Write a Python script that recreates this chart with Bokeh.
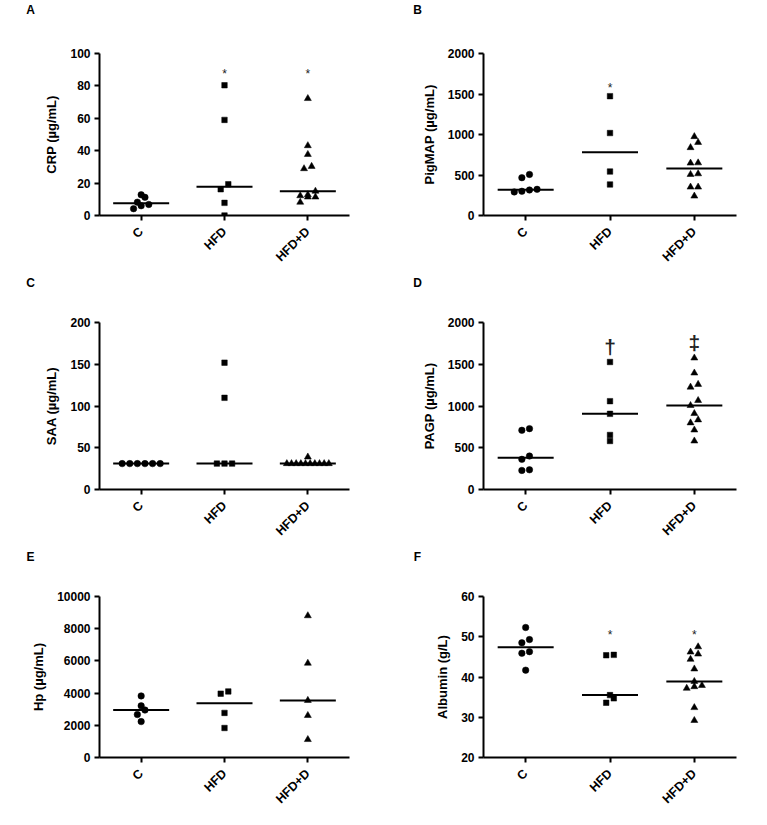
import math
import numpy as np
from bokeh.plotting import figure
from bokeh.layouts import column, row
from bokeh.models import FixedTicker, Range1d
from bokeh.core.properties import value
from bokeh.embed import file_html
from bokeh.resources import INLINE

# ---------------- data ----------------
groups = ["C", "HFD", "HFD+D"]

crp_c = [12.8, 11.2, 8.2, 6.8, 6.0, 4.2]
crp_hfd = [80.4, 59.0, 19.3, 16.2, 7.8, 0.0]
crp_hfdd = [72.2, 43.1, 37.7, 30.3, 28.9, 15.0, 12.8, 12.2, 11.4, 11.4, 8.2]
crp_sig = ["", "*", "*"]
crp_sig_y = [0, 89.3, 89.3]

pigmap_c = [507, 467, 323, 315, 299, 291]
pigmap_hfd = [1473, 1018, 543, 383]
pigmap_hfdd = [974, 902, 838, 650, 647, 515, 507, 351, 351, 240]
pigmap_sig = ["", "*", ""]
pigmap_sig_y = [0, 1617, 0]

saa_c = [31, 31, 31, 31, 31, 31]
saa_hfd = [151.9, 109.8, 31, 31, 31]
saa_hfdd = [38.9, 31, 31, 31, 31, 31, 31, 31, 31, 31, 31]
saa_sig = ["", "", ""]
saa_sig_y = [0, 0, 0]

pagp_c = [729, 709, 401, 361, 236, 228]
pagp_hfd = [1527, 1058, 906, 653, 581]
pagp_hfdd = [1575, 1395, 1259, 1226, 1066, 1006, 910, 834, 798, 713, 581]
pagp_sig = ["", "\u2020", "\u2021"]
pagp_sig_y = [0, 1719, 1771]

hp_c = [3825, 3207, 2948, 2669, 2231]
hp_hfd = [4104, 3964, 2769, 1833]
hp_hfdd = [8805, 5856, 3546, 2610, 1116]
hp_sig = ["", "", ""]
hp_sig_y = [0, 0, 0]

alb_c = [52.3, 49.3, 48.5, 46.3, 45.9, 41.7]
alb_hfd = [45.5, 45.4, 35.5, 34.7, 33.6]
alb_hfdd = [47.5, 46.2, 45.7, 44.4, 42.0, 38.9, 37.9, 37.6, 37.2, 32.4, 29.2]
alb_sig = ["", "*", "*"]
alb_sig_y = [0, 51.2, 51.2]

panels = [
    ("A", "CRP (\u00b5g/mL)", (0, 100), [0, 20, 40, 60, 80, 100], [crp_c, crp_hfd, crp_hfdd], crp_sig, crp_sig_y),
    ("B", "PigMAP (\u00b5g/mL)", (0, 2000), [0, 500, 1000, 1500, 2000], [pigmap_c, pigmap_hfd, pigmap_hfdd], pigmap_sig, pigmap_sig_y),
    ("C", "SAA (\u00b5g/mL)", (0, 200), [0, 50, 100, 150, 200], [saa_c, saa_hfd, saa_hfdd], saa_sig, saa_sig_y),
    ("D", "PAGP (\u00b5g/mL)", (0, 2000), [0, 500, 1000, 1500, 2000], [pagp_c, pagp_hfd, pagp_hfdd], pagp_sig, pagp_sig_y),
    ("E", "Hp (\u00b5g/mL)", (0, 10000), [0, 2000, 4000, 6000, 8000, 10000], [hp_c, hp_hfd, hp_hfdd], hp_sig, hp_sig_y),
    ("F", "Albumin (g/L)", (20, 60), [20, 30, 40, 50, 60], [alb_c, alb_hfd, alb_hfdd], alb_sig, alb_sig_y),
]

# ---------------- layout ----------------
COL_W = [387, 374]
COL_BL = [99, 96]
COL_BR = [38, 25]
STRIP_H = 16
STRIP_Y = [9, 10, 9]        # letter centre, px from strip top
LETTER_X = [30, 30]         # letter centre, px from column left
ROW_H = [256, 259, 251]
ROW_BT = [37, 34, 33]
ROW_BB = [51, 58, 49]

FONT = "Liberation Sans"
MARKERS = ["circle", "square", "triangle"]
MSIZE = [6.5, 5.5, 7]


def swarm(vals, px_per_unit, spacing=7.6, maxw=42.0, h=5.5):
    vals = np.asarray(vals, dtype=float)
    order = np.argsort(vals, kind="stable")
    offs = np.zeros(len(vals))
    bins, cur, start = [], [], None
    for i in order:
        py = vals[i] * px_per_unit
        if cur and py - start > h:
            bins.append(cur)
            cur = []
        if not cur:
            start = py
        cur.append(i)
    if cur:
        bins.append(cur)
    for b in bins:
        n = len(b)
        if n > 1:
            sp = min(spacing, maxw / (n - 1))
            for k, i in enumerate(b):
                offs[i] = (k - (n - 1) / 2) * sp
    return offs


def make_strip(idx, letter):
    col, rw = idx % 2, idx // 2
    W = COL_W[col]
    s = figure(width=W, height=STRIP_H, x_range=Range1d(0, W), y_range=Range1d(STRIP_H, 0),
               x_axis_type=None, y_axis_type=None,
               output_backend="svg", toolbar_location=None,
               min_border_left=0, min_border_right=0, min_border_top=0, min_border_bottom=0)
    s.grid.visible = False
    s.outline_line_color = None
    s.background_fill_color = "white"
    s.border_fill_color = "white"
    s.text(x=[LETTER_X[col]], y=[STRIP_Y[rw]], text=[letter], text_align="center",
           text_baseline="middle", text_font=value(FONT), text_font_style="bold",
           text_font_size="12px", text_color="black")
    return s


def make_panel(idx, letter, ylabel, yr, ticks, series, sig, sig_y):
    col, rw = idx % 2, idx // 2
    W, H = COL_W[col], ROW_H[rw]
    fw = W - COL_BL[col] - COL_BR[col]
    fh = H - ROW_BT[rw] - ROW_BB[rw]
    p = figure(width=W, height=H, x_range=Range1d(0.5, 3.5), y_range=Range1d(*yr),
               output_backend="svg", toolbar_location=None,
               min_border_left=COL_BL[col], min_border_right=COL_BR[col],
               min_border_top=ROW_BT[rw], min_border_bottom=ROW_BB[rw])
    p.outline_line_color = None
    p.xgrid.grid_line_color = None
    p.ygrid.grid_line_color = None
    p.background_fill_color = "white"
    p.border_fill_color = "white"

    pxx = fw / 3.0
    pxy = fh / (yr[1] - yr[0])
    for g, vals in enumerate(series):
        offs = swarm(vals, pxy)
        xs = (g + 1) + offs / pxx
        p.scatter(x=list(xs), y=vals, marker=MARKERS[g], size=MSIZE[g],
                  fill_color="black", line_color="black", line_width=0.5)
        med = float(np.median(vals))
        half = 28.0 / pxx
        p.segment(x0=[g + 1 - half], x1=[g + 1 + half], y0=[med], y1=[med],
                  line_color="black", line_width=2)

    # significance marks
    sx, sy, st = [], [], []
    for g, s in enumerate(sig):
        if s:
            sx.append(g + 1)
            sy.append(sig_y[g])
            st.append(s)
    if st:
        big = any(ch in "".join(st) for ch in "\u2020\u2021")
        p.text(x=sx, y=sy, text=st, text_align="center", text_baseline="middle",
               text_font=value(FONT), text_font_size="21px" if big else "12px",
               text_font_style="bold" if big else "normal",
               y_offset=1 if big else 3, text_color="#222222")

    # axes
    p.xaxis.ticker = FixedTicker(ticks=[1, 2, 3])
    p.xaxis.major_label_overrides = {1: groups[0], 2: groups[1], 3: groups[2]}
    p.xaxis.major_label_orientation = math.pi / 4
    p.yaxis.ticker = FixedTicker(ticks=ticks)
    for ax in (p.xaxis[0], p.yaxis[0]):
        ax.axis_line_width = 2
        ax.axis_line_color = "black"
        ax.major_tick_line_width = 2
        ax.major_tick_line_color = "black"
        ax.major_tick_out = 5
        ax.major_tick_in = 0
        ax.minor_tick_line_color = None
        ax.major_label_text_font = FONT
        ax.major_label_text_font_style = "bold"
        ax.major_label_text_font_size = "12px"
        ax.major_label_text_color = "black"
    p.yaxis.major_label_standoff = 4
    p.xaxis.major_label_text_font_size = "12.5px"
    p.xaxis.major_label_standoff = 9
    p.yaxis.axis_label = ylabel
    p.yaxis.axis_label_text_font = FONT
    p.yaxis.axis_label_text_font_style = "bold"
    p.yaxis.axis_label_text_font_size = "13px"
    p.yaxis.axis_label_text_color = "black"
    p.yaxis.axis_label_standoff = 8
    return p


strips = [make_strip(i, pn[0]) for i, pn in enumerate(panels)]
figs = [make_panel(i, *pn) for i, pn in enumerate(panels)]
layout = column(
    row(strips[0], strips[1]), row(figs[0], figs[1]),
    row(strips[2], strips[3]), row(figs[2], figs[3]),
    row(strips[4], strips[5]), row(figs[4], figs[5]),
)

open("out.html", "w").write(file_html(layout, INLINE))
